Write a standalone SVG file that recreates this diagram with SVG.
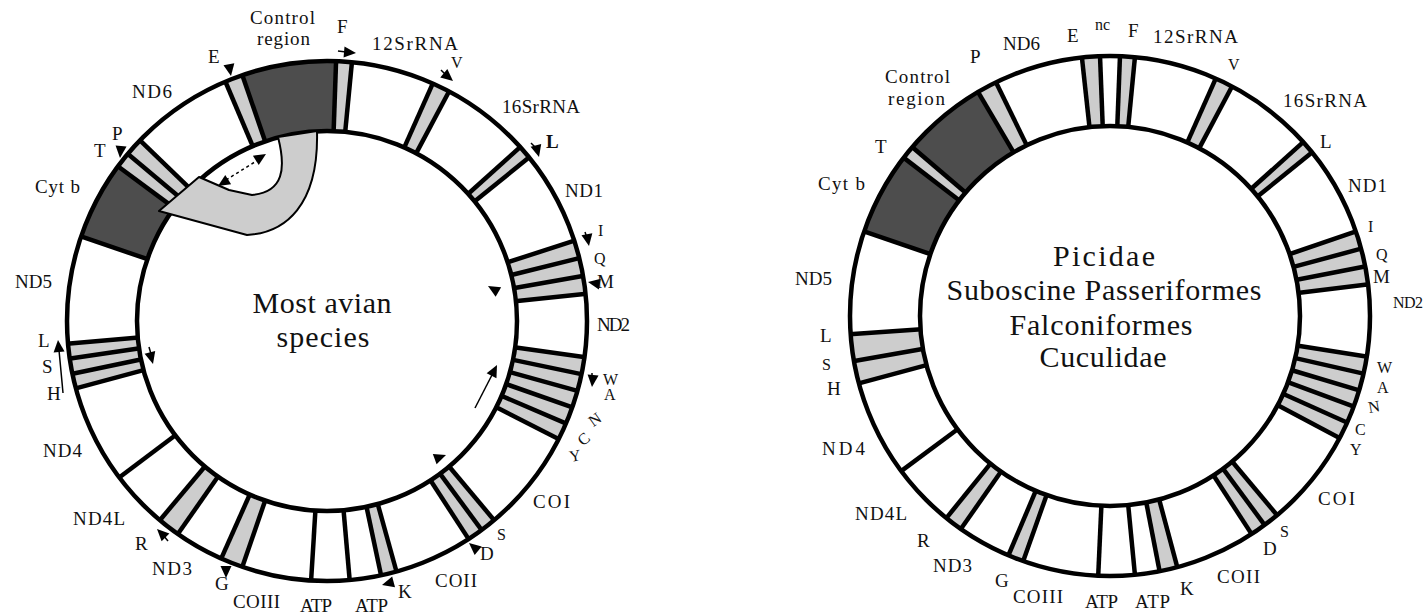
<svg xmlns="http://www.w3.org/2000/svg" xmlns:xlink="http://www.w3.org/1999/xlink" width="1425" height="615" viewBox="0 0 1425 615">
<style>
.lt{fill:none;stroke:#cdcdcd;stroke-width:70}
.dk{fill:none;stroke:#4d4d4d;stroke-width:70}
.ring{fill:none;stroke:#000;stroke-width:4.5}
.tk{stroke:#000;stroke-width:4.5}
text{font-family:"Liberation Serif","Times New Roman",serif;fill:#111;font-size:19px}
.sm{font-size:16px}
.big{font-size:30px}
.tail{stroke:#000;stroke-width:1.5;fill:none}
.dash{stroke:#000;stroke-width:1.5;fill:none;stroke-dasharray:3 3}
</style>
<defs>
<line id="tk" class="tk" x1="0" y1="-189" x2="0" y2="-261"/>
<path id="ah" d="M0,0 L-12,-5.5 L-12,5.5 Z" fill="#000"/>
</defs>
<rect width="1425" height="615" fill="#fff"/>

<!-- LEFT MAP: Most avian species -->
<g id="map-left" transform="translate(327,321)">
  <g id="L-trna">
    <circle class="lt" r="225" pathLength="360" stroke-dasharray="4 400" transform="rotate(247)"/>
    <circle class="lt" r="225" pathLength="360" stroke-dasharray="3.5 400" transform="rotate(-88)"/>
    <circle class="lt" r="225" pathLength="360" stroke-dasharray="4 400" transform="rotate(-66)"/>
    <circle class="lt" r="225" pathLength="360" stroke-dasharray="3 400" transform="rotate(-42)"/>
    <circle class="lt" r="225" pathLength="360" stroke-dasharray="12 400" transform="rotate(-18)"/>
    <circle class="lt" r="225" pathLength="360" stroke-dasharray="19 400" transform="rotate(8)"/>
    <circle class="lt" r="225" pathLength="360" stroke-dasharray="7 400" transform="rotate(50)"/>
    <circle class="lt" r="225" pathLength="360" stroke-dasharray="3.5 400" transform="rotate(74.5)"/>
    <circle class="lt" r="225" pathLength="360" stroke-dasharray="5 400" transform="rotate(109)"/>
    <circle class="lt" r="225" pathLength="360" stroke-dasharray="5 400" transform="rotate(125)"/>
    <circle class="lt" r="225" pathLength="360" stroke-dasharray="10 400" transform="rotate(165)"/>
    <circle class="lt" r="225" pathLength="360" stroke-dasharray="7.5 400" transform="rotate(216.5)"/>
  </g>
  <g id="L-control-region">
    <circle class="dk" r="225" pathLength="360" stroke-dasharray="21 400" transform="rotate(251)"/>
  </g>
  <g id="L-cytb">
    <circle class="dk" r="225" pathLength="360" stroke-dasharray="17.5 400" transform="rotate(199)"/>
  </g>
  <g id="L-bounds">
    <use xlink:href="#tk" transform="rotate(337)"/><use xlink:href="#tk" transform="rotate(341)"/>
    <use xlink:href="#tk" transform="rotate(2)"/><use xlink:href="#tk" transform="rotate(5.5)"/>
    <use xlink:href="#tk" transform="rotate(24)"/><use xlink:href="#tk" transform="rotate(28)"/>
    <use xlink:href="#tk" transform="rotate(48)"/><use xlink:href="#tk" transform="rotate(51)"/>
    <use xlink:href="#tk" transform="rotate(72)"/><use xlink:href="#tk" transform="rotate(76)"/>
    <use xlink:href="#tk" transform="rotate(80)"/><use xlink:href="#tk" transform="rotate(84)"/>
    <use xlink:href="#tk" transform="rotate(98)"/><use xlink:href="#tk" transform="rotate(101.8)"/>
    <use xlink:href="#tk" transform="rotate(105.6)"/><use xlink:href="#tk" transform="rotate(109.4)"/>
    <use xlink:href="#tk" transform="rotate(113.2)"/><use xlink:href="#tk" transform="rotate(117)"/>
    <use xlink:href="#tk" transform="rotate(140)"/><use xlink:href="#tk" transform="rotate(143.5)"/>
    <use xlink:href="#tk" transform="rotate(147)"/>
    <use xlink:href="#tk" transform="rotate(164.5)"/><use xlink:href="#tk" transform="rotate(168)"/>
    <use xlink:href="#tk" transform="rotate(175)"/><use xlink:href="#tk" transform="rotate(183.5)"/>
    <use xlink:href="#tk" transform="rotate(199)"/><use xlink:href="#tk" transform="rotate(204)"/>
    <use xlink:href="#tk" transform="rotate(215)"/><use xlink:href="#tk" transform="rotate(220)"/>
    <use xlink:href="#tk" transform="rotate(233)"/>
    <use xlink:href="#tk" transform="rotate(255)"/><use xlink:href="#tk" transform="rotate(258.3)"/>
    <use xlink:href="#tk" transform="rotate(261.7)"/><use xlink:href="#tk" transform="rotate(265)"/>
    <use xlink:href="#tk" transform="rotate(289)"/><use xlink:href="#tk" transform="rotate(306.5)"/>
    <use xlink:href="#tk" transform="rotate(310)"/><use xlink:href="#tk" transform="rotate(314)"/>
  </g>
  <circle class="ring" r="260"/>
  <circle class="ring" r="190"/>
</g>

<g id="translocation-arrow">
  <path d="M278,137 C286,168 284,192 252,195 L229,190 L199,177 L159,211 L247,235 C285,233 319,206 317,131 Z" fill="#cdcdcd" stroke="#000" stroke-width="2" stroke-linejoin="round"/>
</g>

<g id="L-arrows">
  <use xlink:href="#ah" transform="translate(231,76) rotate(80)"/>
  <line class="tail" x1="338" y1="51" x2="346" y2="52"/>
  <use xlink:href="#ah" transform="translate(356,53) rotate(5)"/>
  <line class="tail" x1="441" y1="70" x2="447" y2="76"/>
  <use xlink:href="#ah" transform="translate(453,81) rotate(40)"/>
  <line class="tail" x1="531" y1="143" x2="536" y2="148"/>
  <use xlink:href="#ah" transform="translate(539,157) rotate(75)"/>
  <line class="tail" x1="585" y1="232" x2="587" y2="238"/>
  <use xlink:href="#ah" transform="translate(589,246) rotate(80)"/>
  <use xlink:href="#ah" transform="translate(588,282) rotate(190)"/>
  <line class="tail" x1="592" y1="373" x2="592" y2="378"/>
  <use xlink:href="#ah" transform="translate(592,387) rotate(95)"/>
  <use xlink:href="#ah" transform="translate(469,543) rotate(220)"/>
  <use xlink:href="#ah" transform="translate(382,585) rotate(165)"/>
  <use xlink:href="#ah" transform="translate(226,578) rotate(90)"/>
  <line class="tail" x1="168" y1="541" x2="163" y2="535"/>
  <use xlink:href="#ah" transform="translate(157,529) rotate(225)"/>
  <line class="tail" x1="63" y1="393" x2="59" y2="350"/>
  <use xlink:href="#ah" transform="translate(58,340) rotate(-95)"/>
  <use xlink:href="#ah" transform="translate(120,158) rotate(95)"/>
  <line class="dash" x1="226" y1="180" x2="258" y2="160"/>
  <use xlink:href="#ah" transform="translate(218,186) rotate(148)"/>
  <use xlink:href="#ah" transform="translate(266,154) rotate(-32)"/>
  <line class="tail" x1="149" y1="347" x2="151" y2="354"/>
  <use xlink:href="#ah" transform="translate(153,364) rotate(75)"/>
  <use xlink:href="#ah" transform="translate(488,286) rotate(210)"/>
  <line class="tail" x1="475" y1="408" x2="493" y2="373"/>
  <use xlink:href="#ah" transform="translate(497,365) rotate(-63)"/>
  <use xlink:href="#ah" transform="translate(446,455) rotate(-20)"/>
</g>

<g id="L-labels">
  <text x="250" y="24" textLength="65">Control</text>
  <text x="257" y="45" textLength="53">region</text>
  <text x="337" y="33">F</text>
  <text x="372" y="50" textLength="86">12SrRNA</text>
  <text class="sm" x="451" y="68">V</text>
  <text x="502" y="113" textLength="78">16SrRNA</text>
  <text x="546" y="148" font-weight="bold">L</text>
  <text x="565" y="197" textLength="38">ND1</text>
  <text class="sm" x="598" y="236">I</text>
  <text class="sm" x="594" y="264">Q</text>
  <text x="597" y="288">M</text>
  <text x="597" y="331" textLength="33">ND2</text>
  <text class="sm" x="603" y="385">W</text>
  <text class="sm" x="604" y="400">A</text>
  <text class="sm" transform="translate(598,424) rotate(-35)" text-anchor="middle">N</text>
  <text class="sm" transform="translate(587,443) rotate(-40)" text-anchor="middle">C</text>
  <text class="sm" transform="translate(576,461) rotate(-10)" text-anchor="middle">Y</text>
  <text x="533" y="508" textLength="37">COI</text>
  <text class="sm" x="497" y="540">S</text>
  <text x="480" y="560">D</text>
  <text x="435" y="587" textLength="42">COII</text>
  <text x="398" y="598">K</text>
  <text x="300" y="612" textLength="32">ATP</text>
  <text x="355" y="612" textLength="33">ATP</text>
  <text x="233" y="608" textLength="47">COIII</text>
  <text x="215" y="590">G</text>
  <text x="152" y="575" textLength="40">ND3</text>
  <text x="135" y="550">R</text>
  <text x="73" y="525" textLength="52">ND4L</text>
  <text x="43" y="457" textLength="39">ND4</text>
  <text x="38" y="347">L</text>
  <text x="42" y="373">S</text>
  <text x="47" y="400">H</text>
  <text x="15" y="288" textLength="37">ND5</text>
  <text x="35" y="193" textLength="45">Cyt b</text>
  <text x="94" y="157">T</text>
  <text x="112" y="140">P</text>
  <text x="132" y="98" textLength="40">ND6</text>
  <text x="208" y="63">E</text>
  <text class="big" x="322" y="313" text-anchor="middle" textLength="139">Most avian</text>
  <text class="big" x="323" y="347" text-anchor="middle" textLength="93">species</text>
</g>

<!-- RIGHT MAP -->
<g id="map-right" transform="translate(1110,316)">
  <g id="R-trna">
    <circle class="lt" r="225" pathLength="360" stroke-dasharray="4 400" transform="rotate(263.8)"/>
    <circle class="lt" r="225" pathLength="360" stroke-dasharray="3.3 400" transform="rotate(-87.8)"/>
    <circle class="lt" r="225" pathLength="360" stroke-dasharray="4 400" transform="rotate(-66)"/>
    <circle class="lt" r="225" pathLength="360" stroke-dasharray="3 400" transform="rotate(-42)"/>
    <circle class="lt" r="225" pathLength="360" stroke-dasharray="12 400" transform="rotate(-19)"/>
    <circle class="lt" r="225" pathLength="360" stroke-dasharray="19 400" transform="rotate(9)"/>
    <circle class="lt" r="225" pathLength="360" stroke-dasharray="7 400" transform="rotate(50)"/>
    <circle class="lt" r="225" pathLength="360" stroke-dasharray="4 400" transform="rotate(75)"/>
    <circle class="lt" r="225" pathLength="360" stroke-dasharray="3.5 400" transform="rotate(109.5)"/>
    <circle class="lt" r="225" pathLength="360" stroke-dasharray="4 400" transform="rotate(125)"/>
    <circle class="lt" r="225" pathLength="360" stroke-dasharray="11 400" transform="rotate(165)"/>
    <circle class="lt" r="225" pathLength="360" stroke-dasharray="3 400" transform="rotate(217.5)"/>
    <circle class="lt" r="225" pathLength="360" stroke-dasharray="4.5 400" transform="rotate(239.5)"/>
  </g>
  <g id="R-cytb">
    <circle class="dk" r="225" pathLength="360" stroke-dasharray="18.5 400" transform="rotate(199)"/>
  </g>
  <g id="R-control-region">
    <circle class="dk" r="225" pathLength="360" stroke-dasharray="19 400" transform="rotate(220.5)"/>
  </g>
  <g id="R-bounds">
    <use xlink:href="#tk" transform="rotate(353.8)"/><use xlink:href="#tk" transform="rotate(357.8)"/>
    <use xlink:href="#tk" transform="rotate(2.2)"/><use xlink:href="#tk" transform="rotate(5.5)"/>
    <use xlink:href="#tk" transform="rotate(24)"/><use xlink:href="#tk" transform="rotate(28)"/>
    <use xlink:href="#tk" transform="rotate(48)"/><use xlink:href="#tk" transform="rotate(51)"/>
    <use xlink:href="#tk" transform="rotate(71)"/><use xlink:href="#tk" transform="rotate(75)"/>
    <use xlink:href="#tk" transform="rotate(79)"/><use xlink:href="#tk" transform="rotate(83)"/>
    <use xlink:href="#tk" transform="rotate(99)"/><use xlink:href="#tk" transform="rotate(102.8)"/>
    <use xlink:href="#tk" transform="rotate(106.6)"/><use xlink:href="#tk" transform="rotate(110.4)"/>
    <use xlink:href="#tk" transform="rotate(114.2)"/><use xlink:href="#tk" transform="rotate(118)"/>
    <use xlink:href="#tk" transform="rotate(140)"/><use xlink:href="#tk" transform="rotate(143.5)"/>
    <use xlink:href="#tk" transform="rotate(147)"/>
    <use xlink:href="#tk" transform="rotate(165)"/><use xlink:href="#tk" transform="rotate(169)"/>
    <use xlink:href="#tk" transform="rotate(174.5)"/><use xlink:href="#tk" transform="rotate(182.6)"/>
    <use xlink:href="#tk" transform="rotate(199.5)"/><use xlink:href="#tk" transform="rotate(203)"/>
    <use xlink:href="#tk" transform="rotate(215)"/><use xlink:href="#tk" transform="rotate(219)"/>
    <use xlink:href="#tk" transform="rotate(233.4)"/>
    <use xlink:href="#tk" transform="rotate(255)"/><use xlink:href="#tk" transform="rotate(260)"/>
    <use xlink:href="#tk" transform="rotate(266)"/>
    <use xlink:href="#tk" transform="rotate(289)"/><use xlink:href="#tk" transform="rotate(307.5)"/>
    <use xlink:href="#tk" transform="rotate(310.5)"/><use xlink:href="#tk" transform="rotate(329.5)"/>
    <use xlink:href="#tk" transform="rotate(334)"/>
  </g>
  <circle class="ring" r="260"/>
  <circle class="ring" r="190"/>
</g>

<g id="R-labels">
  <text x="885" y="83" textLength="65">Control</text>
  <text x="888" y="105" textLength="57">region</text>
  <text x="970" y="63">P</text>
  <text x="1003" y="50" textLength="37">ND6</text>
  <text x="1067" y="42">E</text>
  <text class="sm" x="1095" y="30">nc</text>
  <text x="1128" y="37">F</text>
  <text x="1153" y="43" textLength="85">12SrRNA</text>
  <text class="sm" x="1228" y="70">V</text>
  <text x="1283" y="107" textLength="84">16SrRNA</text>
  <text x="1320" y="148">L</text>
  <text x="1348" y="192" textLength="39">ND1</text>
  <text class="sm" x="1368" y="232">I</text>
  <text class="sm" x="1376" y="260">Q</text>
  <text x="1373" y="283">M</text>
  <text class="sm" x="1393" y="308" textLength="30">ND2</text>
  <text class="sm" x="1377" y="373">W</text>
  <text class="sm" x="1377" y="393">A</text>
  <text class="sm" transform="translate(1375,412) rotate(-10)" text-anchor="middle">N</text>
  <text class="sm" x="1355" y="435">C</text>
  <text class="sm" x="1350" y="455">Y</text>
  <text x="1318" y="505" textLength="37">COI</text>
  <text class="sm" x="1280" y="537">S</text>
  <text x="1263" y="555">D</text>
  <text x="1217" y="583" textLength="43">COII</text>
  <text x="1180" y="595">K</text>
  <text x="1085" y="608" textLength="33">ATP</text>
  <text x="1135" y="608" textLength="35">ATP</text>
  <text x="1013" y="603" textLength="50">COIII</text>
  <text x="995" y="587">G</text>
  <text x="933" y="572" textLength="39">ND3</text>
  <text x="917" y="547">R</text>
  <text x="855" y="520" textLength="52">ND4L</text>
  <text x="822" y="455" textLength="43">ND4</text>
  <text x="820" y="342">L</text>
  <text class="sm" x="822" y="370">S</text>
  <text x="827" y="395">H</text>
  <text x="795" y="285" textLength="37">ND5</text>
  <text x="818" y="190" textLength="47">Cyt b</text>
  <text x="875" y="153">T</text>
  <text class="big" x="1104" y="266" text-anchor="middle" textLength="102">Picidae</text>
  <text class="big" x="1104" y="300" text-anchor="middle" textLength="315">Suboscine Passeriformes</text>
  <text class="big" x="1101" y="335" text-anchor="middle" textLength="183">Falconiformes</text>
  <text class="big" x="1103" y="367" text-anchor="middle" textLength="127">Cuculidae</text>
</g>
</svg>
